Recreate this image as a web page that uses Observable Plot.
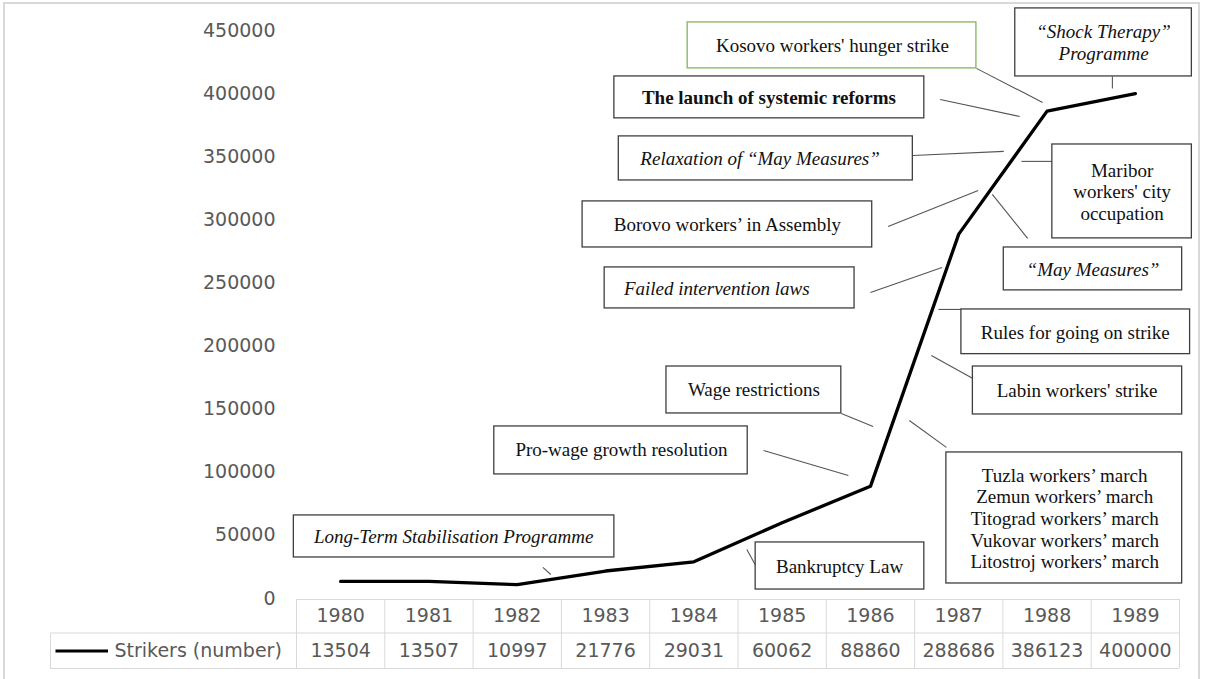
<!DOCTYPE html>
<html>
<head>
<meta charset="utf-8">
<script src="https://cdn.jsdelivr.net/npm/d3@7"></script>
<script src="https://cdn.jsdelivr.net/npm/@observablehq/plot@0.6"></script>
<style>
  html, body { margin: 0; padding: 0; background: #ffffff; }
  #wrap { position: relative; width: 1205px; height: 679px; overflow: hidden; }
  #border { position: absolute; left: 3px; top: 2px; width: 1197px; height: 700px; border: 2px solid #d9d9d9; box-sizing: border-box; }
  #chart { position: absolute; left: 0; top: 0; }
</style>
</head>
<body>
<div id="wrap"><div id="border"></div><div id="chart"></div></div>
<script>
// ---- data ----
const years = [1980, 1981, 1982, 1983, 1984, 1985, 1986, 1987, 1988, 1989];
const strikers = [13504, 13507, 10997, 21776, 29031, 60062, 88860, 288686, 386123, 400000];
const yTicks = [0, 50000, 100000, 150000, 200000, 250000, 300000, 350000, 400000, 450000];
const seriesName = "Strikers (number)";

// ---- annotation texts ----
const noteTexts = [
  "Kosovo workers' hunger strike",
  "\u201CShock Therapy\u201D\nProgramme",
  "The launch of systemic reforms",
  "Relaxation of \u201CMay Measures\u201D",
  "Maribor\nworkers' city\noccupation",
  "Borovo workers\u2019 in Assembly",
  "\u201CMay Measures\u201D",
  "Failed intervention laws",
  "Rules for going on strike",
  "Labin workers' strike",
  "Wage restrictions",
  "Pro-wage growth resolution",
  "Tuzla workers\u2019 march\nZemun workers\u2019 march\nTitograd workers\u2019 march\nVukovar workers\u2019 march\nLitostroj workers\u2019 march",
  "Bankruptcy Law",
  "Long-Term Stabilisation Programme"
];

// ---- annotation layout (in data units: year, strikers) ----
const noteLayout = [
  {style: "normal", x1: 1983.93, x2: 1987.20, y1: 420000, y2: 456400, tx: 1985.57, ty: 438200, lx1: 1987.20, ly1: 420000, lx2: 1987.95, ly2: 393000, stroke: "#82b65a"},
  {style: "italic", x1: 1987.64, x2: 1989.64, y1: 413600, y2: 467500, tx: 1988.64, ty: 440600, lx1: 1988.74, ly1: 413600, lx2: 1988.74, ly2: 404100},
  {style: "bold",   x1: 1983.10, x2: 1986.61, y1: 380400, y2: 413600, tx: 1984.85, ty: 397000, lx1: 1986.79, ly1: 395400, lx2: 1987.69, ly2: 381900},
  {style: "italic", x1: 1983.15, x2: 1986.48, y1: 331200, y2: 366100, tx: 1984.75, ty: 348700, lx1: 1986.48, ly1: 351000, lx2: 1987.51, ly2: 354200},
  {style: "normal", x1: 1988.06, x2: 1989.64, y1: 285300, y2: 359700, tx: 1988.85, ty: 322500, lx1: 1987.71, ly1: 346300, lx2: 1988.06, ly2: 346300},
  {style: "normal", x1: 1982.74, x2: 1986.02, y1: 278100, y2: 314600, tx: 1984.38, ty: 296400, lx1: 1986.20, ly1: 294800, lx2: 1987.22, ly2: 323300},
  {style: "italic", x1: 1987.51, x2: 1989.53, y1: 244100, y2: 278100, tx: 1988.52, ty: 261100, lx1: 1987.38, ly1: 320100, lx2: 1987.78, ly2: 285300},
  {style: "italic", x1: 1982.99, x2: 1985.82, y1: 229800, y2: 262300, tx: 1984.26, ty: 246000, lx1: 1986.00, ly1: 242500, lx2: 1986.81, ly2: 262300},
  {style: "normal", x1: 1987.03, x2: 1989.62, y1: 193600, y2: 229000, tx: 1988.32, ty: 211300, lx1: 1986.77, ly1: 229000, lx2: 1987.03, ly2: 229000},
  {style: "normal", x1: 1987.16, x2: 1989.53, y1: 145800, y2: 183800, tx: 1988.34, ty: 164800, lx1: 1986.69, ly1: 192500, lx2: 1987.16, ly2: 174300},
  {style: "normal", x1: 1983.69, x2: 1985.67, y1: 146600, y2: 183800, tx: 1984.68, ty: 165600, lx1: 1985.67, ly1: 146600, lx2: 1986.03, ly2: 136300},
  {style: "normal", x1: 1981.74, x2: 1984.61, y1: 98300,  y2: 136300, tx: 1983.18, ty: 118100, lx1: 1984.79, ly1: 117300, lx2: 1985.75, ly2: 97500},
  {style: "normal", x1: 1986.86, x2: 1989.53, y1: 11900,  y2: 115700, tx: 1988.20, ty: 63800,  lx1: 1986.44, ly1: 141000, lx2: 1986.86, ly2: 119700},
  {style: "normal", x1: 1984.70, x2: 1986.61, y1: 7100,   y2: 44400,  tx: 1985.65, ty: 25800,  lx1: 1984.60, ly1: 38800,  lx2: 1984.70, ly2: 26100},
  {style: "italic", x1: 1979.47, x2: 1983.10, y1: 32500,  y2: 65800,  tx: 1981.28, ty: 49100,  lx1: 1982.29, ly1: 24600,  lx2: 1982.38, ly2: 19000}
];

const series = years.map((yr, i) => ({year: yr, value: strikers[i]}));
const notes = noteLayout.map((d, i) => ({...d, text: noteTexts[i], stroke: d.stroke || "#3f3f3f"}));
const boundaries = years.map(y => y - 0.5).concat([years[years.length - 1] + 0.5]);

const sans = "DejaVu Sans";
const serif = "Liberation Serif";
const grid = "#d9d9d9";
const axisGray = "#595959";

const textOpts = (style) => ({
  x: "tx", y: "ty", text: "text",
  fontFamily: serif, fontSize: 19, lineHeight: 1.14, fill: "#111",
  fontStyle: style === "italic" ? "italic" : "normal",
  fontWeight: style === "bold" ? "bold" : "normal"
});

const plot = Plot.plot({
  width: 1205,
  height: 679,
  marginLeft: 296,
  marginRight: 26,
  marginTop: 30,
  marginBottom: 81,
  x: {domain: [1979.5, 1989.5], axis: null},
  y: {domain: [0, 450000], axis: null},
  style: {background: "transparent", overflow: "visible", fontFamily: sans},
  marks: [
    // y axis labels
    Plot.axisY(yTicks, {tickSize: 0, tickPadding: 21, fontSize: 19, fontFamily: sans, fill: axisGray, tickFormat: d3.format("d"), label: null}),
    // data table grid
    Plot.tickX(boundaries, {x: d => d, insetTop: 569, insetBottom: -70, stroke: grid, strokeWidth: 1}),
    Plot.tickX([boundaries[0]], {x: d => d, dx: -246, insetTop: 604, insetBottom: -70, stroke: grid, strokeWidth: 1}),
    Plot.ruleY([0], {dy: 1, stroke: grid, strokeWidth: 1}),
    Plot.ruleY([0], {dy: 34.5, insetLeft: -246, stroke: grid, strokeWidth: 1}),
    Plot.ruleY([0], {dy: 70, insetLeft: -246, stroke: grid, strokeWidth: 1}),
    // table texts
    Plot.text(years, {x: d => d, frameAnchor: "bottom", lineAnchor: "middle", dy: 17.5, text: d => String(d), fontFamily: sans, fontSize: 19, fill: axisGray}),
    Plot.text(series, {x: "year", frameAnchor: "bottom", lineAnchor: "middle", dy: 52.5, text: d => String(d.value), fontFamily: sans, fontSize: 19, fill: axisGray}),
    // legend key
    Plot.ruleY([0], {dy: 52.5, insetLeft: -240.5, insetRight: 1071, stroke: "black", strokeWidth: 3.2}),
    Plot.text([seriesName], {frameAnchor: "bottom-left", lineAnchor: "middle", dx: -182, dy: 52.5, textAnchor: "start", fontFamily: sans, fontSize: 19, fill: axisGray}),
    // leader lines
    Plot.link(notes, {x1: "lx1", y1: "ly1", x2: "lx2", y2: "ly2", stroke: "#555", strokeWidth: 1.1}),
    // series line
    Plot.line(series, {x: "year", y: "value", stroke: "black", strokeWidth: 3.3, strokeLinejoin: "round", strokeLinecap: "round"}),
    // annotation boxes
    Plot.rect(notes, {x1: "x1", x2: "x2", y1: "y1", y2: "y2", fill: "white", stroke: "stroke", strokeWidth: 1.3}),
    Plot.text(notes.filter(d => d.style === "normal"), textOpts("normal")),
    Plot.text(notes.filter(d => d.style === "italic"), textOpts("italic")),
    Plot.text(notes.filter(d => d.style === "bold"), textOpts("bold"))
  ]
});

document.getElementById("chart").appendChild(plot);
</script>
</body>
</html>
